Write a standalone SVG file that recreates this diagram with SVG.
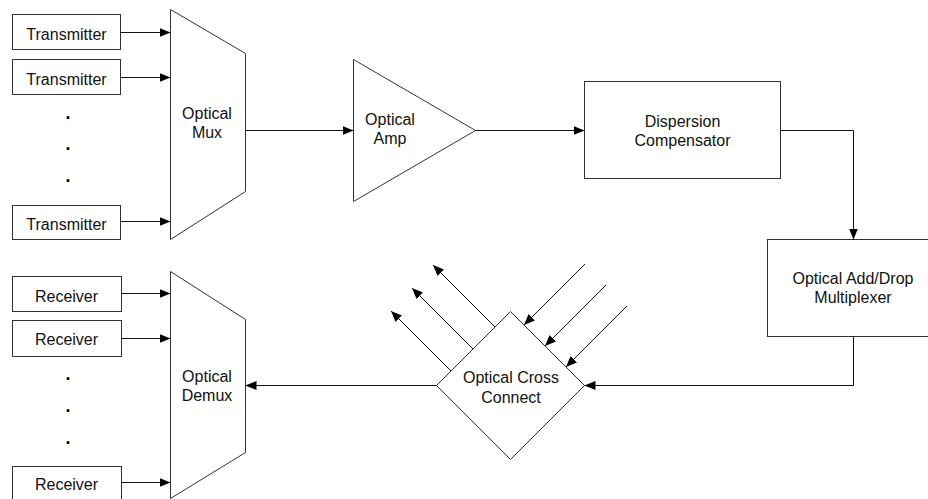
<svg xmlns="http://www.w3.org/2000/svg" width="928" height="499" viewBox="0 0 928 499">
  <style>
    .shape { fill: #ffffff; stroke: #333333; stroke-width: 1; }
    .arrow { fill: none; stroke: #111111; stroke-width: 1; marker-end: url(#head); }
    text { font-family: "Liberation Sans", Arial, sans-serif; font-size: 16px; fill: #111111; text-anchor: middle; }
    .dot { font-size: 18px; font-weight: bold; fill: #000000; }
  </style>
  <defs>
    <marker id="head" markerUnits="userSpaceOnUse" viewBox="0 0 11 9" refX="11" refY="4.5" markerWidth="11" markerHeight="9" orient="auto">
      <path d="M0,0 L11,4.5 L0,9 z" fill="#000000"/>
    </marker>
  </defs>

  <rect width="928" height="499" fill="#ffffff"/>

  <!-- transmitters feeding the multiplexer -->
  <g id="tx1">
    <rect class="shape" x="12.5" y="14.5" width="108" height="35"/>
    <text x="66.5" y="39.5">Transmitter</text>
  </g>
  <g id="tx2">
    <rect class="shape" x="12.5" y="59.5" width="108" height="35"/>
    <text x="66.5" y="84.5">Transmitter</text>
  </g>
  <g id="tx-dots">
    <text class="dot" x="68" y="119">.</text>
    <text class="dot" x="68" y="150">.</text>
    <text class="dot" x="68" y="182">.</text>
  </g>
  <g id="tx3">
    <rect class="shape" x="12.5" y="205.5" width="108" height="34"/>
    <text x="66.5" y="230">Transmitter</text>
  </g>

  <g id="mux">
    <polygon class="shape" points="170.5,9.5 245.5,53.5 245.5,191.5 170.5,239.5"/>
    <text x="207" y="119">Optical</text>
    <text x="207" y="138">Mux</text>
  </g>

  <g id="amp">
    <polygon class="shape" points="353.5,59.5 475.5,130.5 353.5,201.5"/>
    <text x="390" y="125">Optical</text>
    <text x="390" y="144">Amp</text>
  </g>

  <g id="dispersion">
    <rect class="shape" x="584.5" y="81.5" width="196" height="97"/>
    <text x="682.5" y="127">Dispersion</text>
    <text x="682.5" y="146">Compensator</text>
  </g>

  <g id="oadm">
    <rect class="shape" x="767.5" y="239.5" width="172" height="97"/>
    <text x="853" y="283.5">Optical Add/Drop</text>
    <text x="853" y="303">Multiplexer</text>
  </g>

  <g id="oxc">
    <polygon class="shape" points="510.5,311.5 584.5,385.5 510.5,459.5 436.5,385.5"/>
    <text x="511" y="382.5">Optical Cross</text>
    <text x="511" y="403">Connect</text>
  </g>

  <g id="demux">
    <polygon class="shape" points="170.5,271.5 245.5,319.5 245.5,452.5 170.5,498.5"/>
    <text x="207" y="382">Optical</text>
    <text x="207" y="401">Demux</text>
  </g>

  <!-- receivers -->
  <g id="rx1">
    <rect class="shape" x="12.5" y="276.5" width="109" height="35"/>
    <text x="66.5" y="301.5">Receiver</text>
  </g>
  <g id="rx2">
    <rect class="shape" x="12.5" y="320.5" width="109" height="36"/>
    <text x="66.5" y="345">Receiver</text>
  </g>
  <g id="rx-dots">
    <text class="dot" x="68" y="380">.</text>
    <text class="dot" x="68" y="412">.</text>
    <text class="dot" x="68" y="444">.</text>
  </g>
  <g id="rx3">
    <rect class="shape" x="12.5" y="466.5" width="109" height="40"/>
    <text x="66.5" y="490">Receiver</text>
  </g>

  <g id="connectors">
    <path class="arrow" d="M120.5,32.5 H170.5"/>
    <path class="arrow" d="M120.5,77.5 H170.5"/>
    <path class="arrow" d="M120.5,221.5 H170.5"/>

    <path class="arrow" d="M121.5,293.5 H170.5"/>
    <path class="arrow" d="M121.5,338.5 H170.5"/>
    <path class="arrow" d="M121.5,482.5 H170.5"/>

    <path class="arrow" d="M245.5,130.5 H353.5"/>
    <path class="arrow" d="M475.5,130.5 H584.5"/>
    <path class="arrow" d="M780.5,130.5 H853.5 V239.5"/>
    <path class="arrow" d="M853.5,336.5 V385.5 H584.5"/>
    <path class="arrow" d="M436.5,385.5 H245.5"/>

    <!-- dropped wavelengths leaving the cross connect -->
    <path class="arrow" d="M495,327 L433,265"/>
    <path class="arrow" d="M473,349 L412,288"/>
    <path class="arrow" d="M451,371 L391,311"/>

    <!-- added wavelengths entering the cross connect -->
    <path class="arrow" d="M585,264 L524,325"/>
    <path class="arrow" d="M606,285 L545,346"/>
    <path class="arrow" d="M627,306 L566,367"/>
  </g>
</svg>
